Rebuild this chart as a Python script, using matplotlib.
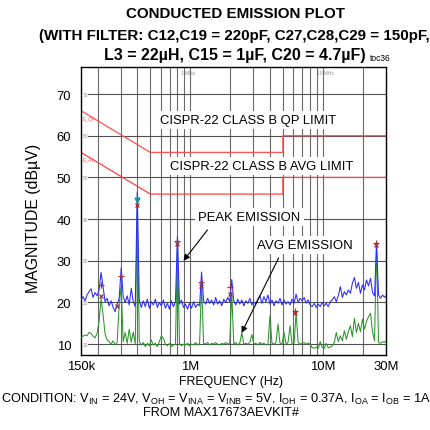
import numpy as np
import matplotlib
matplotlib.use('Agg')
import matplotlib.pyplot as plt
from matplotlib import font_manager

# sweep frequencies (MHz)
freq_mhz = [
    0.150, 0.1553, 0.1608, 0.1665, 0.1724, 0.1786, 0.1849, 0.1915, 0.1983, 0.2053,
    0.2126, 0.2202, 0.2280, 0.2361, 0.2445, 0.2532, 0.2622, 0.2715, 0.2811, 0.2911,
    0.3015, 0.3122, 0.3233, 0.3347, 0.3466, 0.3590, 0.3717, 0.3849, 0.3986, 0.4128,
    0.4274, 0.4426, 0.4583, 0.4746, 0.4915, 0.5089, 0.5270, 0.5458, 0.5651, 0.5852,
    0.6060, 0.6276, 0.6499, 0.6729, 0.6968, 0.7216, 0.7473, 0.7738, 0.8013, 0.8298,
    0.8593, 0.8898, 0.9214, 0.9542, 0.9881, 1.023, 1.060, 1.097, 1.136, 1.177,
    1.218, 1.262, 1.307, 1.353, 1.401, 1.451, 1.503, 1.556, 1.611, 1.669,
    1.728, 1.789, 1.853, 1.919, 1.987, 2.058, 2.131, 2.207, 2.285, 2.366,
    2.450, 2.537, 2.628, 2.721, 2.818, 2.918, 3.022, 3.129, 3.240, 3.355,
    3.475, 3.598, 3.726, 3.859, 3.996, 4.138, 4.285, 4.437, 4.595, 4.758,
    4.927, 5.102, 5.284, 5.471, 5.666, 5.867, 6.076, 6.292, 6.515, 6.747,
    6.987, 7.235, 7.492, 7.758, 8.034, 8.320, 8.615, 8.922, 9.239, 9.567,
    9.907, 10.26, 10.62, 11.00, 11.39, 11.80, 12.22, 12.65, 13.10, 13.57,
    14.05, 14.55, 15.07, 15.60, 16.16, 16.73, 17.33, 17.94, 18.58, 19.24,
    19.93, 20.64, 21.37, 22.13, 22.92, 23.73, 24.58, 25.45, 26.36, 27.30,
    28.27, 29.27, 30.0,
]
# peak emission trace (dBuV)
peak_db = [
    20.6, 21.4, 20.4, 21.8, 22.6, 23.3, 21.2, 22.4, 21.6, 23.0,
    27.2, 23.6, 20.2, 21.0, 19.2, 20.4, 18.8, 17.8, 19.6, 21.0,
    28.3, 21.4, 20.0, 21.6, 19.4, 23.4, 20.2, 19.0, 46.4, 20.6,
    18.8, 20.4, 19.0, 20.8, 18.6, 20.2, 19.4, 20.8, 18.8, 20.0,
    19.2, 20.6, 18.6, 19.8, 18.4, 20.4, 19.0, 20.2, 35.9, 19.6,
    20.6, 18.8, 19.6, 18.4, 19.8, 18.6, 20.2, 18.8, 19.6, 19.2,
    27.3, 20.4, 19.6, 21.0, 19.8, 20.6, 19.4, 21.2, 19.6, 20.4,
    19.2, 20.8, 20.0, 21.2, 20.2, 25.5, 20.4, 19.4, 20.8, 19.6,
    20.6, 19.2, 20.4, 19.8, 21.0, 19.4, 20.2, 19.6, 20.8, 21.6,
    19.8, 21.4, 20.2, 21.8, 19.6, 20.6, 19.2, 20.4, 19.8, 21.0,
    19.4, 20.6, 19.6, 20.2, 19.4, 20.8, 19.8, 22.0, 20.0, 21.0,
    20.4, 21.2, 19.8, 20.6, 19.4, 19.0, 19.8, 18.8, 19.6, 19.0,
    20.0, 19.2, 19.8, 19.0, 20.2, 20.6, 21.4, 20.2, 21.6, 23.8,
    21.2, 22.6, 21.8, 23.0, 22.2, 24.6, 26.0, 23.4, 24.8, 22.2,
    24.2, 23.0, 25.4, 24.0, 25.8, 22.4, 21.6, 34.2, 21.8, 21.0,
    21.8, 21.2, 21.6,
]
# average emission trace (dBuV)
avg_db = [
    11.6, 11.9, 12.2, 12.0, 12.8, 12.6, 11.9, 11.5, 12.6, 15.5,
    21.0, 17.0, 12.4, 11.0, 10.6, 10.0, 10.8, 9.8, 10.4, 19.2,
    24.0, 10.6, 12.8, 10.2, 13.6, 10.4, 12.9, 10.0, 43.6, 10.6,
    9.8, 10.4, 9.4, 10.2, 9.6, 11.0, 9.8, 10.2, 9.4, 10.6,
    12.0, 11.4, 10.0, 9.6, 10.2, 9.4, 9.8, 10.0, 34.0, 10.2,
    9.6, 10.0, 9.8, 10.2, 9.6, 10.0, 9.8, 10.4, 9.8, 10.2,
    24.6, 10.2, 10.0, 10.4, 9.8, 10.2, 10.0, 10.4, 10.0, 9.8,
    10.2, 10.0, 10.4, 10.0, 10.2, 22.4, 10.0, 10.4, 9.8, 10.2,
    12.8, 10.0, 10.2, 10.0, 10.4, 12.3, 10.0, 10.2, 9.8, 10.4,
    10.0, 10.2, 9.8, 10.0, 16.8, 10.2, 10.0, 10.4, 14.8, 10.2,
    10.0, 12.8, 10.0, 10.4, 14.4, 10.0, 10.2, 17.6, 10.4, 10.0,
    10.2, 10.4, 10.0, 10.3, 10.0, 9.2, 9.0, 9.3, 9.0, 10.6,
    9.2, 9.0, 10.2, 9.1, 9.3, 9.6, 10.4, 12.8, 10.6, 12.0,
    10.8, 13.2, 11.2, 13.0, 14.4, 11.8, 16.2, 12.8, 15.0, 13.0,
    16.0, 13.6, 15.4, 16.6, 17.4, 13.0, 10.8, 33.8, 10.4, 10.2,
    10.6, 10.4, 10.8,
]

# CISPR-22 class B limits
qp_limit_freq = [0.15, 0.5, 5, 5, 30]
qp_limit_db = [66, 56, 56, 60, 60]
avg_limit_freq = [0.15, 0.5, 5, 5, 30]
avg_limit_db = [56, 46, 46, 50, 50]

# measured markers
qp_mark_freq = [0.213, 0.300, 0.80, 1.21, 2.0, 6.2, 25.3]
qp_mark_db = [24.3, 26.4, 34.8, 24.9, 23.7, 17.9, 34.3]
av_mark_freq = [0.213, 0.281, 0.399, 0.80, 1.21, 2.0, 6.2, 25.3]
av_mark_db = [21.5, 19.2, 43.4, 34.0, 23.9, 22.0, 17.4, 33.9]
top_mark_freq = [0.399]
top_mark_db = [44.5]

grid_freq = [0.2, 0.3, 0.4, 0.5, 0.6, 0.7, 0.8, 0.9, 1, 2, 3, 4, 5, 6, 7, 8, 9, 10, 20]
grid_db = [10, 20, 30, 40, 50, 60, 70]

names = {f.name for f in font_manager.fontManager.ttflist}
fam = 'Liberation Sans Narrow' if 'Liberation Sans Narrow' in names else 'Liberation Sans'
plt.rcParams['font.family'] = [fam, 'DejaVu Sans']
plt.rcParams['mathtext.default'] = 'regular'

W = 431.0
fig = plt.figure(figsize=(4.31, 4.31), dpi=100)
ax = fig.add_axes([81 / W, 1 - 356 / W, 305 / W, 288.5 / W])
ax.set_xscale('log')
ax.set_xlim(0.15, 30)
ax.set_ylim(7.4, 76.6)

for g in grid_freq:
    ax.axvline(g, color='#6a6a6a', lw=0.8, zorder=0)
for g in grid_db:
    ax.axhline(g, color='#505050', lw=0.8, zorder=0)
    ax.text(0.1615, g, str(g), fontsize=3.5, color='#909090', ha='center', va='center',
            bbox=dict(facecolor='white', edgecolor='none', pad=0.3), zorder=1)

ax.plot(qp_limit_freq, qp_limit_db, color='#ff5050', lw=0.9, zorder=2)
ax.plot(avg_limit_freq, avg_limit_db, color='#ff4040', lw=0.9, zorder=2)
ax.text(0.153, 64.2, 'E_QP', fontsize=3.5, color='#ff6060', va='center')
ax.text(0.153, 54.4, 'E_AV', fontsize=3.5, color='#ff6060', va='center')

ax.plot(freq_mhz, avg_db, color='#2a962a', lw=0.75, zorder=3)
ax.plot(freq_mhz, peak_db, color='#2b2bff', lw=0.75, zorder=4)
ax.plot(qp_mark_freq, qp_mark_db, '+', color='#a03232', ms=5, mew=0.9, zorder=5)
ax.plot(av_mark_freq, av_mark_db, 'x', color='#a03232', ms=3.5, mew=0.9, zorder=5)
ax.plot(top_mark_freq, top_mark_db, 'v', color='#1f9090', ms=3.5, zorder=6)
ax.text(0.399, 46.4, '1', fontsize=3.5, color='#1f9090', ha='center', va='center')

ax.text(0.97, 75.1, '1 MHz', fontsize=3.5, color='#909090', ha='center', va='center')
ax.text(10.5, 75.1, '10 MHz', fontsize=3.5, color='#909090', ha='center', va='center')

box = dict(facecolor='white', edgecolor='none', pad=2.5)
t_qp = ax.text(2.72, 63.8, 'CISPR-22 CLASS B QP LIMIT', ha='center', va='center', bbox=box, zorder=7)
t_av = ax.text(3.47, 52.7, 'CISPR-22 CLASS B AVG LIMIT', ha='center', va='center', bbox=box, zorder=7)
t_pk = ax.text(2.80, 40.5, 'PEAK EMISSION', ha='center', va='center', bbox=box, zorder=7)
t_ae = ax.text(7.33, 33.8, 'AVG EMISSION', ha='center', va='center', bbox=box, zorder=7)
arrow = dict(arrowstyle='-|>', color='black', lw=0.8, mutation_scale=9, shrinkA=0, shrinkB=0)
ax.annotate('', xy=(0.89, 30.0), xytext=(1.35, 37.4), arrowprops=arrow, zorder=8)
ax.annotate('', xy=(2.44, 12.7), xytext=(4.65, 30.7), arrowprops=arrow, zorder=8)

ax.set_xticks([0.15, 1, 10, 30])
ax.set_xticklabels(['150k', '1M', '10M', '30M'])
ax.xaxis.set_minor_locator(matplotlib.ticker.NullLocator())
ax.set_yticks(grid_db)
for s in ax.spines.values():
    s.set_linewidth(1.0)
    s.set_color('black')

r = fig.canvas.get_renderer()


def fit(t, target, use_h=False):
    bb = t.get_window_extent(r)
    cur = bb.height if use_h else bb.width
    t.set_fontsize(t.get_fontsize() * target / cur)


ax.tick_params(length=0, labelsize=9.4)
ax.tick_params(axis='y', pad=7)
ax.tick_params(axis='x', pad=3.5)

fit(t_qp, 176)
fit(t_av, 184)
fit(t_pk, 102)
fit(t_ae, 95)

t1 = fig.text(235 / W, 1 - 13.5 / W, 'CONDUCTED EMISSION PLOT', ha='center', va='center', weight='bold')
t2 = fig.text(234 / W, 1 - 36 / W, '(WITH FILTER: C12,C19 = 220pF, C27,C28,C29 = 150pF,',
              ha='center', va='center', weight='bold')
t3 = fig.text(235 / W, 1 - 55.5 / W, 'L3 = 22µH, C15 = 1µF, C20 = 4.7µF)', ha='center', va='center', weight='bold')
t4 = fig.text(380 / W, 1 - 58.5 / W, 'toc36', ha='center', va='center')
fit(t1, 218)
fit(t2, 390)
fit(t3, 262)
fit(t4, 21)

ty = fig.text(34 / W, 1 - 218 / W, 'MAGNITUDE (dBµV)', rotation=90, ha='center', va='center')
tx = fig.text(231 / W, 1 - 382 / W, 'FREQUENCY (Hz)', ha='center', va='center')
tc = fig.text(1 / W, 1 - 399 / W,
              'CONDITION: V$_{IN}$ = 24V, V$_{OH}$ = V$_{INA}$ = V$_{INB}$ = 5V, '
              'I$_{OH}$ = 0.37A, I$_{OA}$ = I$_{OB}$ = 1A', ha='left', va='center')
tf = fig.text(221 / W, 1 - 413.5 / W, 'FROM MAX17673AEVKIT#', ha='center', va='center')
fit(ty, 150, use_h=True)
fit(tx, 104)
fit(tc, 428)
fit(tf, 156)

fig.savefig('out.png', dpi=100)
